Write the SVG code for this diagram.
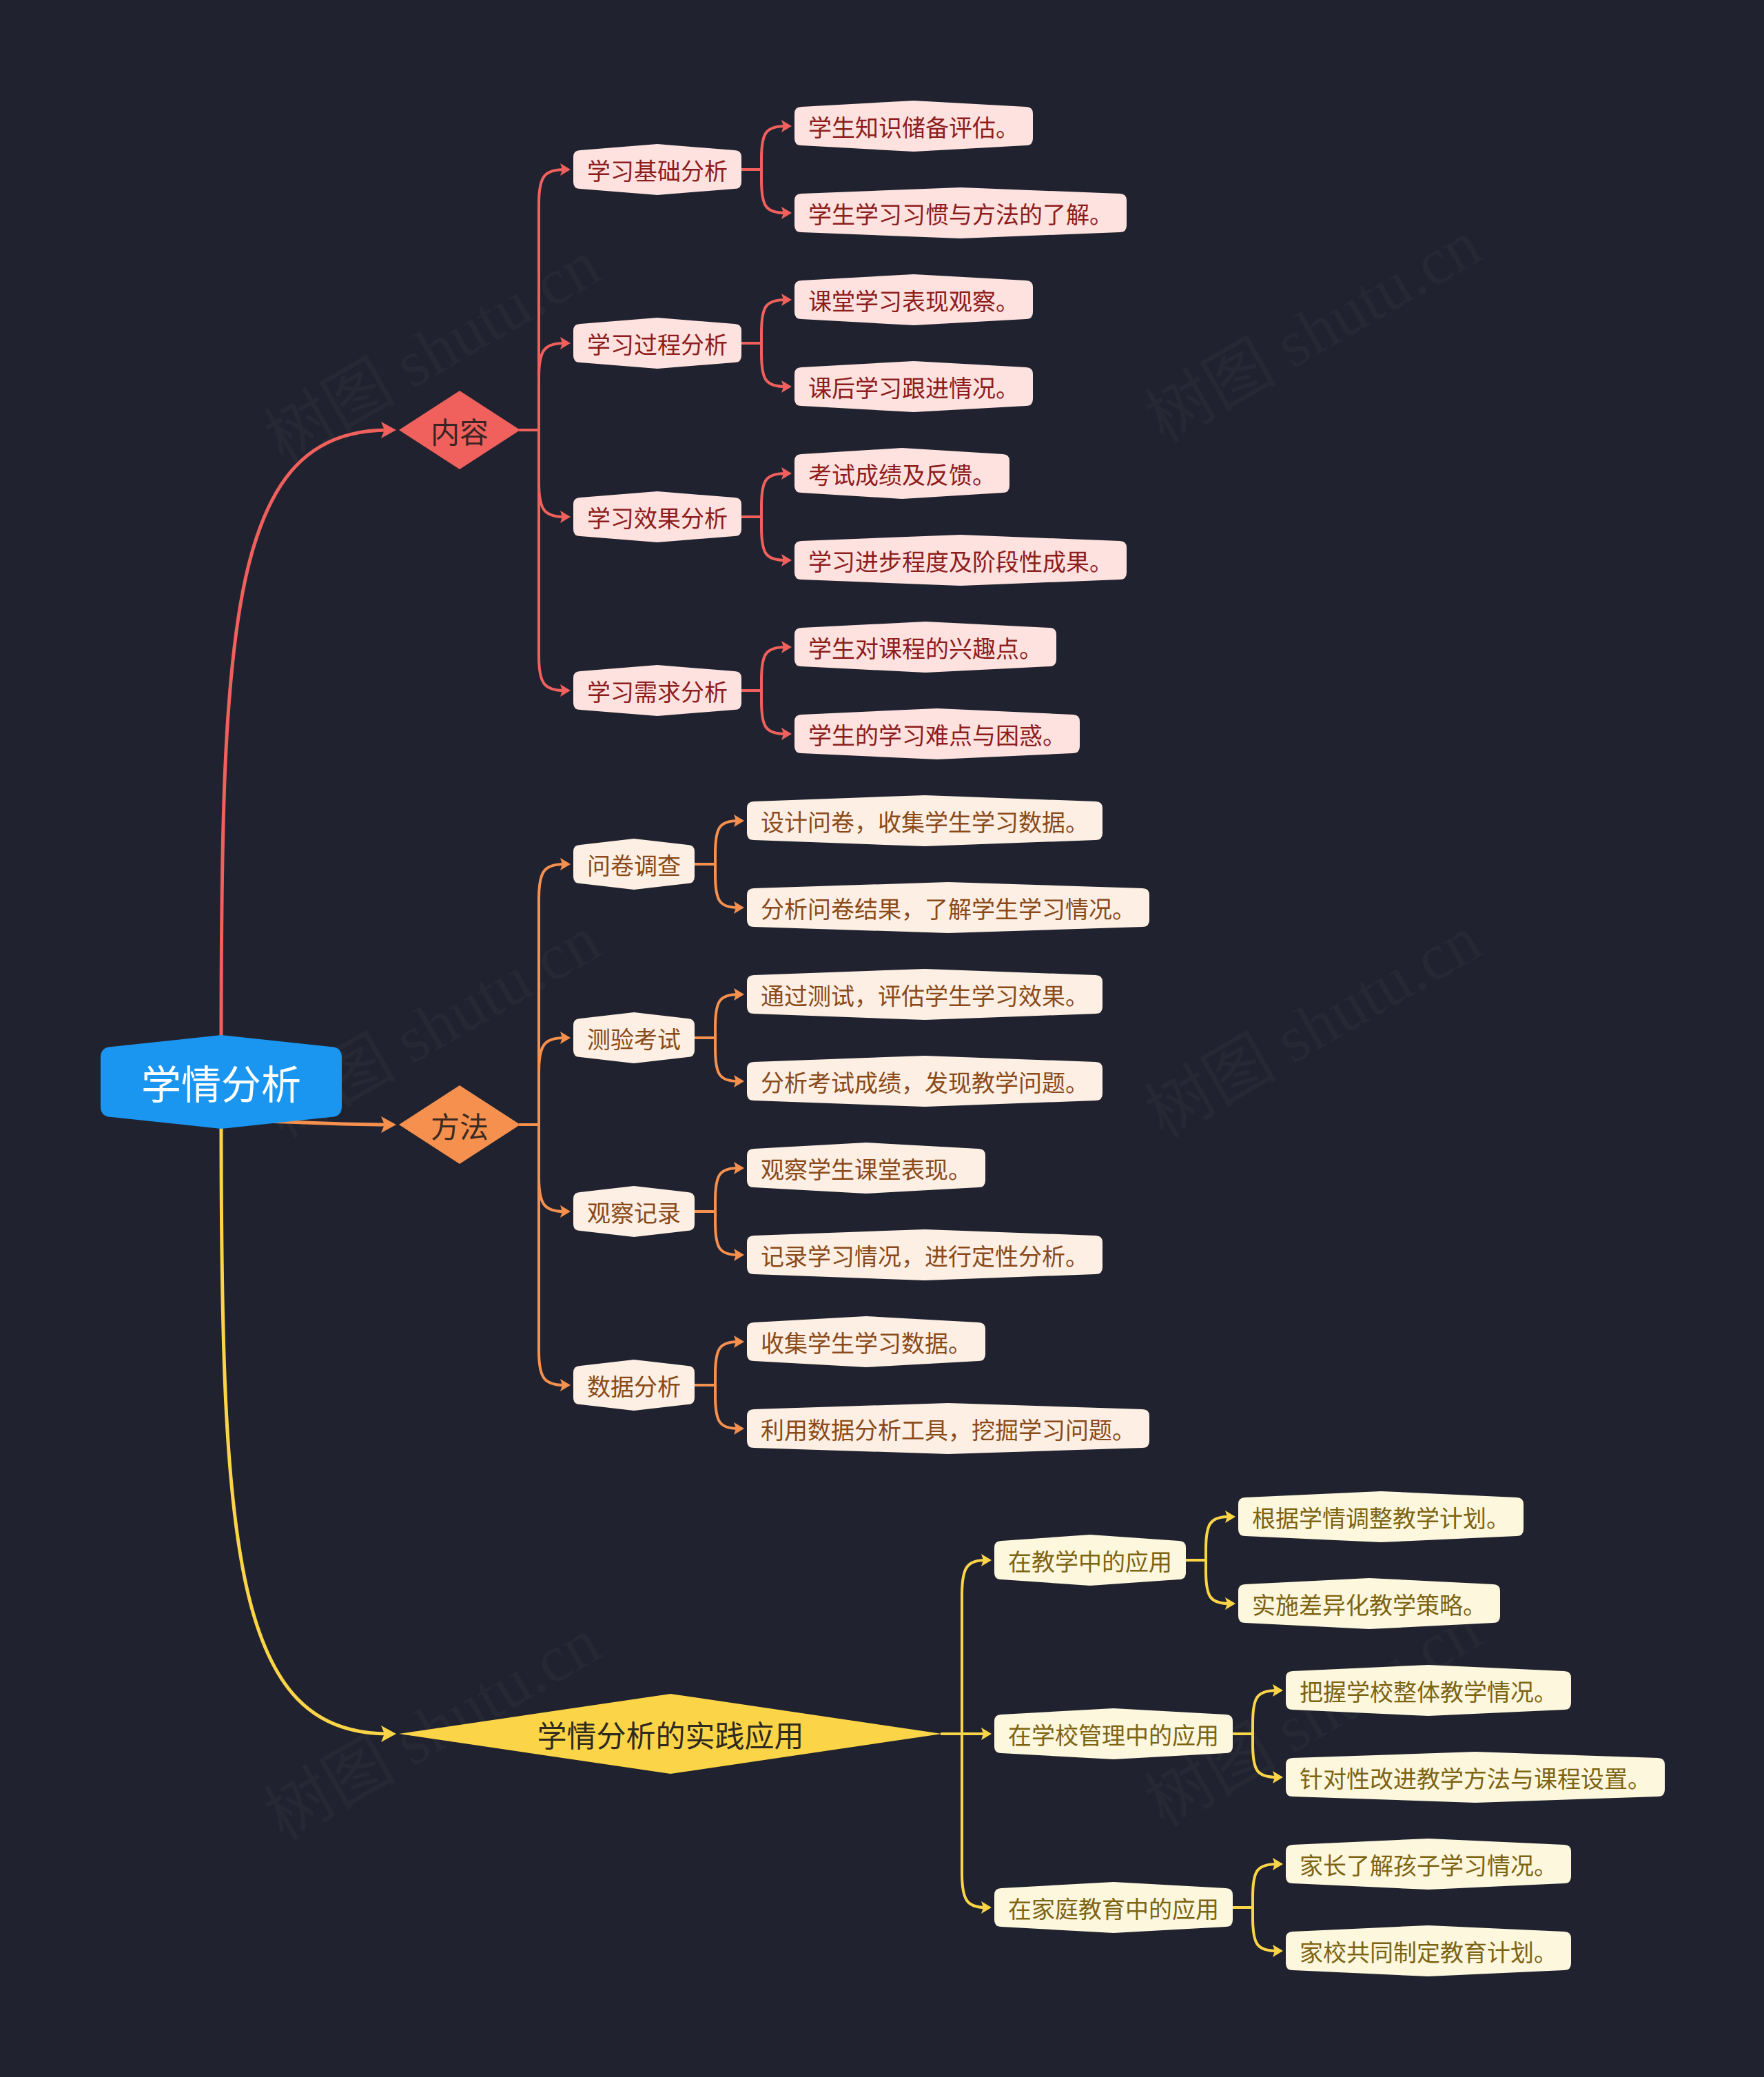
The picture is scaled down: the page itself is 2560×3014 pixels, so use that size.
<svg xmlns="http://www.w3.org/2000/svg" width="2560" height="3014" viewBox="0 0 2560 3014">
<style>
.ln{fill:none;stroke-width:4;stroke-linecap:round}
.main{fill:none;stroke-width:5;stroke-linecap:round}
.r{stroke:#f0605c}.o{stroke:#f6904e}.y{stroke:#fcd447}
.t{font-family:"Noto Sans CJK SC","Noto Sans",sans-serif;font-size:34px;dominant-baseline:central}
.nr path{fill:#fde2e0}.nr text{fill:#8e1d1d}
.no path{fill:#fdefe3}.no text{fill:#8a4a1a}
.ny path{fill:#fdf7dd}.ny text{fill:#7d6413}
.wm{font-family:"Liberation Serif","Noto Sans CJK SC",serif;font-size:96px;fill:#ffffff;fill-opacity:0.028}
</style>
<defs>
<marker id="mr" markerUnits="userSpaceOnUse" markerWidth="16" markerHeight="18" refX="6" refY="9" orient="auto"><path d="M0,0 L15,9 L0,18 L3,9 Z" fill="#f0605c"/></marker>
<marker id="mo" markerUnits="userSpaceOnUse" markerWidth="16" markerHeight="18" refX="6" refY="9" orient="auto"><path d="M0,0 L15,9 L0,18 L3,9 Z" fill="#f6904e"/></marker>
<marker id="my" markerUnits="userSpaceOnUse" markerWidth="16" markerHeight="18" refX="6" refY="9" orient="auto"><path d="M0,0 L15,9 L0,18 L3,9 Z" fill="#fcd447"/></marker>
<marker id="Mr" markerUnits="userSpaceOnUse" markerWidth="24" markerHeight="24" refX="10" refY="12" orient="auto"><path d="M0,0 L22,12 L0,24 L5,12 Z" fill="#f0605c"/></marker>
<marker id="Mo" markerUnits="userSpaceOnUse" markerWidth="24" markerHeight="24" refX="10" refY="12" orient="auto"><path d="M0,0 L22,12 L0,24 L5,12 Z" fill="#f6904e"/></marker>
<marker id="My" markerUnits="userSpaceOnUse" markerWidth="24" markerHeight="24" refX="10" refY="12" orient="auto"><path d="M0,0 L22,12 L0,24 L5,12 Z" fill="#fcd447"/></marker>
</defs>
<rect width="2560" height="3014" fill="#20232f"/>
<g id="watermark">
<text class="wm" transform="translate(644,538) rotate(-30)" text-anchor="middle">树图 shutu.cn</text>
<text class="wm" transform="translate(1922,509) rotate(-30)" text-anchor="middle">树图 shutu.cn</text>
<text class="wm" transform="translate(644,1518) rotate(-30)" text-anchor="middle">树图 shutu.cn</text>
<text class="wm" transform="translate(1922,1518) rotate(-30)" text-anchor="middle">树图 shutu.cn</text>
<text class="wm" transform="translate(644,2537) rotate(-30)" text-anchor="middle">树图 shutu.cn</text>
<text class="wm" transform="translate(1922,2518) rotate(-30)" text-anchor="middle">树图 shutu.cn</text>
</g>
<g id="connectors">
<path class="main r" d="M321,1510 C321,900 335,624 563,624" marker-end="url(#Mr)"/>
<path class="main o" d="M330,1626 C450,1628 480,1632 563,1632" marker-end="url(#Mo)"/>
<path class="main y" d="M321,1630 C321,2250 340,2516 563,2516" marker-end="url(#My)"/>
<!-- red level 1 -->
<path class="ln r" d="M755,624 H782 V296 C782,256 790,246 819,246" marker-end="url(#mr)"/>
<path class="ln r" d="M755,624 H782 V548 C782,508 790,498 819,498" marker-end="url(#mr)"/>
<path class="ln r" d="M755,624 H782 V700 C782,740 790,750 819,750" marker-end="url(#mr)"/>
<path class="ln r" d="M755,624 H782 V952 C782,992 790,1002 819,1002" marker-end="url(#mr)"/>
<!-- red leaves -->
<path class="ln r" d="M1076,246 H1105 V231 C1105,193 1111,183 1140,183" marker-end="url(#mr)"/>
<path class="ln r" d="M1076,246 H1105 V261 C1105,299 1111,309 1140,309" marker-end="url(#mr)"/>
<path class="ln r" d="M1076,498 H1105 V483 C1105,445 1111,435 1140,435" marker-end="url(#mr)"/>
<path class="ln r" d="M1076,498 H1105 V513 C1105,551 1111,561 1140,561" marker-end="url(#mr)"/>
<path class="ln r" d="M1076,750 H1105 V735 C1105,697 1111,687 1140,687" marker-end="url(#mr)"/>
<path class="ln r" d="M1076,750 H1105 V765 C1105,803 1111,813 1140,813" marker-end="url(#mr)"/>
<path class="ln r" d="M1076,1002 H1105 V987 C1105,949 1111,939 1140,939" marker-end="url(#mr)"/>
<path class="ln r" d="M1076,1002 H1105 V1017 C1105,1055 1111,1065 1140,1065" marker-end="url(#mr)"/>
<!-- orange level 1 -->
<path class="ln o" d="M755,1632 H782 V1304 C782,1264 790,1254 819,1254" marker-end="url(#mo)"/>
<path class="ln o" d="M755,1632 H782 V1556 C782,1516 790,1506 819,1506" marker-end="url(#mo)"/>
<path class="ln o" d="M755,1632 H782 V1708 C782,1748 790,1758 819,1758" marker-end="url(#mo)"/>
<path class="ln o" d="M755,1632 H782 V1960 C782,2000 790,2010 819,2010" marker-end="url(#mo)"/>
<!-- orange leaves -->
<path class="ln o" d="M1008,1254 H1038 V1239 C1038,1201 1044,1191 1071,1191" marker-end="url(#mo)"/>
<path class="ln o" d="M1008,1254 H1038 V1269 C1038,1307 1044,1317 1071,1317" marker-end="url(#mo)"/>
<path class="ln o" d="M1008,1506 H1038 V1491 C1038,1453 1044,1443 1071,1443" marker-end="url(#mo)"/>
<path class="ln o" d="M1008,1506 H1038 V1521 C1038,1559 1044,1569 1071,1569" marker-end="url(#mo)"/>
<path class="ln o" d="M1008,1758 H1038 V1743 C1038,1705 1044,1695 1071,1695" marker-end="url(#mo)"/>
<path class="ln o" d="M1008,1758 H1038 V1773 C1038,1811 1044,1821 1071,1821" marker-end="url(#mo)"/>
<path class="ln o" d="M1008,2010 H1038 V1995 C1038,1957 1044,1947 1071,1947" marker-end="url(#mo)"/>
<path class="ln o" d="M1008,2010 H1038 V2025 C1038,2063 1044,2073 1071,2073" marker-end="url(#mo)"/>
<!-- yellow level 1 -->
<path class="ln y" d="M1367,2516 H1396 V2314 C1396,2274 1404,2264 1430,2264" marker-end="url(#my)"/>
<path class="ln y" d="M1367,2516 H1430" marker-end="url(#my)"/>
<path class="ln y" d="M1367,2516 H1396 V2718 C1396,2758 1404,2768 1430,2768" marker-end="url(#my)"/>
<!-- yellow leaves -->
<path class="ln y" d="M1721,2264 H1750 V2249 C1750,2211 1756,2201 1784,2201" marker-end="url(#my)"/>
<path class="ln y" d="M1721,2264 H1750 V2279 C1750,2317 1756,2327 1784,2327" marker-end="url(#my)"/>
<path class="ln y" d="M1789,2516 H1818 V2501 C1818,2463 1824,2453 1853,2453" marker-end="url(#my)"/>
<path class="ln y" d="M1789,2516 H1818 V2531 C1818,2569 1824,2579 1853,2579" marker-end="url(#my)"/>
<path class="ln y" d="M1789,2768 H1818 V2753 C1818,2715 1824,2705 1853,2705" marker-end="url(#my)"/>
<path class="ln y" d="M1789,2768 H1818 V2783 C1818,2821 1824,2831 1853,2831" marker-end="url(#my)"/>
</g>

<g id="root" transform="translate(146,1570)">
<path d="M16,-51 L175,-68 L334,-51 Q350,-51 350,-35 V35 Q350,51 334,51 L175,68 L16,51 Q0,51 0,35 V-35 Q0,-51 16,-51 Z" fill="#1b96f0"/>
<text x="175" y="0" text-anchor="middle" dominant-baseline="central" font-family="Noto Sans CJK SC, Noto Sans, sans-serif" font-size="58" fill="#ffffff">学情分析</text>
</g>

<g id="n-neirong">
<polygon points="579,624 667,567 755,624 667,681" fill="#f0605c"/>
<text x="667" y="624" text-anchor="middle" dominant-baseline="central" font-family="Noto Sans CJK SC, Noto Sans, sans-serif" font-size="42" fill="#3a2424">内容</text>
</g>
<g id="n-fangfa">
<polygon points="579,1632 667,1575 755,1632 667,1689" fill="#f6904e"/>
<text x="667" y="1632" text-anchor="middle" dominant-baseline="central" font-family="Noto Sans CJK SC, Noto Sans, sans-serif" font-size="42" fill="#3a2a20">方法</text>
</g>
<g id="n-shijian">
<polygon points="579,2516 973,2458 1367,2516 973,2574" fill="#fcd447"/>
<text x="973" y="2516" text-anchor="middle" dominant-baseline="central" font-family="Noto Sans CJK SC, Noto Sans, sans-serif" font-size="43" fill="#2e2a1e">学情分析的实践应用</text>
</g>

<!-- red level 2 (W=244) -->
<g id="r1" class="nr" transform="translate(832,246)"><path d="M10,-28 L122,-37 L234,-28 Q244,-28 244,-18 V18 Q244,28 234,28 L122,37 L10,28 Q0,28 0,18 V-18 Q0,-28 10,-28 Z"/><text class="t" x="20" y="0">学习基础分析</text></g>
<g id="r2" class="nr" transform="translate(832,498)"><path d="M10,-28 L122,-37 L234,-28 Q244,-28 244,-18 V18 Q244,28 234,28 L122,37 L10,28 Q0,28 0,18 V-18 Q0,-28 10,-28 Z"/><text class="t" x="20" y="0">学习过程分析</text></g>
<g id="r3" class="nr" transform="translate(832,750)"><path d="M10,-28 L122,-37 L234,-28 Q244,-28 244,-18 V18 Q244,28 234,28 L122,37 L10,28 Q0,28 0,18 V-18 Q0,-28 10,-28 Z"/><text class="t" x="20" y="0">学习效果分析</text></g>
<g id="r4" class="nr" transform="translate(832,1002)"><path d="M10,-28 L122,-37 L234,-28 Q244,-28 244,-18 V18 Q244,28 234,28 L122,37 L10,28 Q0,28 0,18 V-18 Q0,-28 10,-28 Z"/><text class="t" x="20" y="0">学习需求分析</text></g>

<!-- red leaves -->
<g id="r1a" class="nr" transform="translate(1153,183)"><path d="M10,-28 L173,-37 L336,-28 Q346,-28 346,-18 V18 Q346,28 336,28 L173,37 L10,28 Q0,28 0,18 V-18 Q0,-28 10,-28 Z"/><text class="t" x="20" y="0">学生知识储备评估。</text></g>
<g id="r1b" class="nr" transform="translate(1153,309)"><path d="M10,-28 L241,-37 L472,-28 Q482,-28 482,-18 V18 Q482,28 472,28 L241,37 L10,28 Q0,28 0,18 V-18 Q0,-28 10,-28 Z"/><text class="t" x="20" y="0">学生学习习惯与方法的了解。</text></g>
<g id="r2a" class="nr" transform="translate(1153,435)"><path d="M10,-28 L173,-37 L336,-28 Q346,-28 346,-18 V18 Q346,28 336,28 L173,37 L10,28 Q0,28 0,18 V-18 Q0,-28 10,-28 Z"/><text class="t" x="20" y="0">课堂学习表现观察。</text></g>
<g id="r2b" class="nr" transform="translate(1153,561)"><path d="M10,-28 L173,-37 L336,-28 Q346,-28 346,-18 V18 Q346,28 336,28 L173,37 L10,28 Q0,28 0,18 V-18 Q0,-28 10,-28 Z"/><text class="t" x="20" y="0">课后学习跟进情况。</text></g>
<g id="r3a" class="nr" transform="translate(1153,687)"><path d="M10,-28 L156,-37 L302,-28 Q312,-28 312,-18 V18 Q312,28 302,28 L156,37 L10,28 Q0,28 0,18 V-18 Q0,-28 10,-28 Z"/><text class="t" x="20" y="0">考试成绩及反馈。</text></g>
<g id="r3b" class="nr" transform="translate(1153,813)"><path d="M10,-28 L241,-37 L472,-28 Q482,-28 482,-18 V18 Q482,28 472,28 L241,37 L10,28 Q0,28 0,18 V-18 Q0,-28 10,-28 Z"/><text class="t" x="20" y="0">学习进步程度及阶段性成果。</text></g>
<g id="r4a" class="nr" transform="translate(1153,939)"><path d="M10,-28 L190,-37 L370,-28 Q380,-28 380,-18 V18 Q380,28 370,28 L190,37 L10,28 Q0,28 0,18 V-18 Q0,-28 10,-28 Z"/><text class="t" x="20" y="0">学生对课程的兴趣点。</text></g>
<g id="r4b" class="nr" transform="translate(1153,1065)"><path d="M10,-28 L207,-37 L404,-28 Q414,-28 414,-18 V18 Q414,28 404,28 L207,37 L10,28 Q0,28 0,18 V-18 Q0,-28 10,-28 Z"/><text class="t" x="20" y="0">学生的学习难点与困惑。</text></g>

<!-- orange level 2 (W=176) -->
<g id="o1" class="no" transform="translate(832,1254)"><path d="M10,-28 L88,-37 L166,-28 Q176,-28 176,-18 V18 Q176,28 166,28 L88,37 L10,28 Q0,28 0,18 V-18 Q0,-28 10,-28 Z"/><text class="t" x="20" y="0">问卷调查</text></g>
<g id="o2" class="no" transform="translate(832,1506)"><path d="M10,-28 L88,-37 L166,-28 Q176,-28 176,-18 V18 Q176,28 166,28 L88,37 L10,28 Q0,28 0,18 V-18 Q0,-28 10,-28 Z"/><text class="t" x="20" y="0">测验考试</text></g>
<g id="o3" class="no" transform="translate(832,1758)"><path d="M10,-28 L88,-37 L166,-28 Q176,-28 176,-18 V18 Q176,28 166,28 L88,37 L10,28 Q0,28 0,18 V-18 Q0,-28 10,-28 Z"/><text class="t" x="20" y="0">观察记录</text></g>
<g id="o4" class="no" transform="translate(832,2010)"><path d="M10,-28 L88,-37 L166,-28 Q176,-28 176,-18 V18 Q176,28 166,28 L88,37 L10,28 Q0,28 0,18 V-18 Q0,-28 10,-28 Z"/><text class="t" x="20" y="0">数据分析</text></g>

<!-- orange leaves -->
<g id="o1a" class="no" transform="translate(1084,1191)"><path d="M10,-28 L258,-37 L506,-28 Q516,-28 516,-18 V18 Q516,28 506,28 L258,37 L10,28 Q0,28 0,18 V-18 Q0,-28 10,-28 Z"/><text class="t" x="20" y="0">设计问卷，收集学生学习数据。</text></g>
<g id="o1b" class="no" transform="translate(1084,1317)"><path d="M10,-28 L292,-37 L574,-28 Q584,-28 584,-18 V18 Q584,28 574,28 L292,37 L10,28 Q0,28 0,18 V-18 Q0,-28 10,-28 Z"/><text class="t" x="20" y="0">分析问卷结果，了解学生学习情况。</text></g>
<g id="o2a" class="no" transform="translate(1084,1443)"><path d="M10,-28 L258,-37 L506,-28 Q516,-28 516,-18 V18 Q516,28 506,28 L258,37 L10,28 Q0,28 0,18 V-18 Q0,-28 10,-28 Z"/><text class="t" x="20" y="0">通过测试，评估学生学习效果。</text></g>
<g id="o2b" class="no" transform="translate(1084,1569)"><path d="M10,-28 L258,-37 L506,-28 Q516,-28 516,-18 V18 Q516,28 506,28 L258,37 L10,28 Q0,28 0,18 V-18 Q0,-28 10,-28 Z"/><text class="t" x="20" y="0">分析考试成绩，发现教学问题。</text></g>
<g id="o3a" class="no" transform="translate(1084,1695)"><path d="M10,-28 L173,-37 L336,-28 Q346,-28 346,-18 V18 Q346,28 336,28 L173,37 L10,28 Q0,28 0,18 V-18 Q0,-28 10,-28 Z"/><text class="t" x="20" y="0">观察学生课堂表现。</text></g>
<g id="o3b" class="no" transform="translate(1084,1821)"><path d="M10,-28 L258,-37 L506,-28 Q516,-28 516,-18 V18 Q516,28 506,28 L258,37 L10,28 Q0,28 0,18 V-18 Q0,-28 10,-28 Z"/><text class="t" x="20" y="0">记录学习情况，进行定性分析。</text></g>
<g id="o4a" class="no" transform="translate(1084,1947)"><path d="M10,-28 L173,-37 L336,-28 Q346,-28 346,-18 V18 Q346,28 336,28 L173,37 L10,28 Q0,28 0,18 V-18 Q0,-28 10,-28 Z"/><text class="t" x="20" y="0">收集学生学习数据。</text></g>
<g id="o4b" class="no" transform="translate(1084,2073)"><path d="M10,-28 L292,-37 L574,-28 Q584,-28 584,-18 V18 Q584,28 574,28 L292,37 L10,28 Q0,28 0,18 V-18 Q0,-28 10,-28 Z"/><text class="t" x="20" y="0">利用数据分析工具，挖掘学习问题。</text></g>

<!-- yellow level 2 -->
<g id="y1" class="ny" transform="translate(1443,2264)"><path d="M10,-28 L139,-37 L268,-28 Q278,-28 278,-18 V18 Q278,28 268,28 L139,37 L10,28 Q0,28 0,18 V-18 Q0,-28 10,-28 Z"/><text class="t" x="20" y="0">在教学中的应用</text></g>
<g id="y2" class="ny" transform="translate(1443,2516)"><path d="M10,-28 L173,-37 L336,-28 Q346,-28 346,-18 V18 Q346,28 336,28 L173,37 L10,28 Q0,28 0,18 V-18 Q0,-28 10,-28 Z"/><text class="t" x="20" y="0">在学校管理中的应用</text></g>
<g id="y3" class="ny" transform="translate(1443,2768)"><path d="M10,-28 L173,-37 L336,-28 Q346,-28 346,-18 V18 Q346,28 336,28 L173,37 L10,28 Q0,28 0,18 V-18 Q0,-28 10,-28 Z"/><text class="t" x="20" y="0">在家庭教育中的应用</text></g>

<!-- yellow leaves -->
<g id="y1a" class="ny" transform="translate(1797,2201)"><path d="M10,-28 L207,-37 L404,-28 Q414,-28 414,-18 V18 Q414,28 404,28 L207,37 L10,28 Q0,28 0,18 V-18 Q0,-28 10,-28 Z"/><text class="t" x="20" y="0">根据学情调整教学计划。</text></g>
<g id="y1b" class="ny" transform="translate(1797,2327)"><path d="M10,-28 L190,-37 L370,-28 Q380,-28 380,-18 V18 Q380,28 370,28 L190,37 L10,28 Q0,28 0,18 V-18 Q0,-28 10,-28 Z"/><text class="t" x="20" y="0">实施差异化教学策略。</text></g>
<g id="y2a" class="ny" transform="translate(1866,2453)"><path d="M10,-28 L207,-37 L404,-28 Q414,-28 414,-18 V18 Q414,28 404,28 L207,37 L10,28 Q0,28 0,18 V-18 Q0,-28 10,-28 Z"/><text class="t" x="20" y="0">把握学校整体教学情况。</text></g>
<g id="y2b" class="ny" transform="translate(1866,2579)"><path d="M10,-28 L275,-37 L540,-28 Q550,-28 550,-18 V18 Q550,28 540,28 L275,37 L10,28 Q0,28 0,18 V-18 Q0,-28 10,-28 Z"/><text class="t" x="20" y="0">针对性改进教学方法与课程设置。</text></g>
<g id="y3a" class="ny" transform="translate(1866,2705)"><path d="M10,-28 L207,-37 L404,-28 Q414,-28 414,-18 V18 Q414,28 404,28 L207,37 L10,28 Q0,28 0,18 V-18 Q0,-28 10,-28 Z"/><text class="t" x="20" y="0">家长了解孩子学习情况。</text></g>
<g id="y3b" class="ny" transform="translate(1866,2831)"><path d="M10,-28 L207,-37 L404,-28 Q414,-28 414,-18 V18 Q414,28 404,28 L207,37 L10,28 Q0,28 0,18 V-18 Q0,-28 10,-28 Z"/><text class="t" x="20" y="0">家校共同制定教育计划。</text></g>
</svg>
